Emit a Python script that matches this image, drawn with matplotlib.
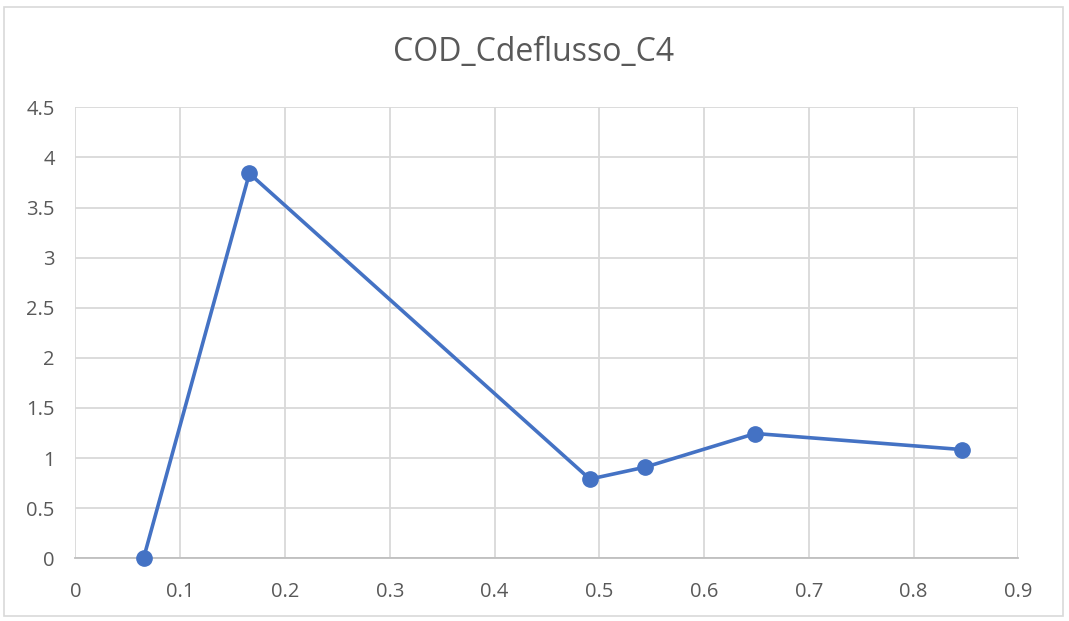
import matplotlib.pyplot as plt
from matplotlib.patches import Rectangle

# COD vs Cdeflusso, campione C4
cdeflusso = [0.065, 0.166, 0.491, 0.544, 0.649, 0.846]
cod = [0.0, 3.84, 0.79, 0.91, 1.245, 1.085]
x_ticks = [0, 0.1, 0.2, 0.3, 0.4, 0.5, 0.6, 0.7, 0.8, 0.9]
y_ticks = [0, 0.5, 1, 1.5, 2, 2.5, 3, 3.5, 4, 4.5]

grid_col = '#d9d9d9'
text_col = '#595959'
line_col = '#4472c4'

fig = plt.figure(figsize=(10.69, 6.21), dpi=100)
fig.patches.append(Rectangle((0.004, 0.008), 0.99, 0.98, transform=fig.transFigure,
                             fill=False, edgecolor=grid_col, linewidth=1.2))

ax = fig.add_axes([0.0706, 0.1010, 0.8820, 0.7262])
ax.plot(cdeflusso, cod, color=line_col, linewidth=2.6, marker='o',
        markersize=11, clip_on=False, zorder=3)

ax.set_xlim(0, 0.9)
ax.set_ylim(0, 4.5)
ax.set_xticks(x_ticks)
ax.set_yticks(y_ticks)
ax.set_xticklabels([f'{v:g}' for v in x_ticks])
ax.set_yticklabels([f'{v:g}' for v in y_ticks])
ax.grid(True, color=grid_col, linewidth=1.3)
ax.set_axisbelow(True)
for s in ['top', 'right', 'left']:
    ax.spines[s].set_visible(False)
ax.spines['bottom'].set_color('#bfbfbf')
ax.spines['bottom'].set_linewidth(1.3)
ax.tick_params(length=0, labelsize=14.5, labelcolor=text_col)
ax.tick_params(axis='x', pad=17)
ax.tick_params(axis='y', pad=15)
for lab in ax.get_xticklabels() + ax.get_yticklabels():
    lab.set_family('Open Sans')

fig.text(0.4992, 0.9155, 'COD_Cdeflusso_C4', ha='center', va='center',
         fontsize=23, color=text_col, family=['Liberation Sans Narrow', 'Open Sans'])

fig.savefig('out.png', dpi=100)
